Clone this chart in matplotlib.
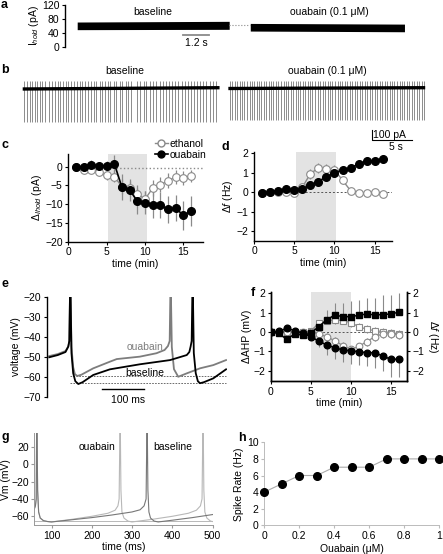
import numpy as np
import matplotlib
matplotlib.use('Agg')
import matplotlib.pyplot as plt
from matplotlib.lines import Line2D

plt.rcParams['font.family'] = ['Liberation Sans', 'DejaVu Sans']
plt.rcParams['mathtext.fontset'] = 'custom'
plt.rcParams['mathtext.rm'] = 'Liberation Sans'
plt.rcParams['mathtext.it'] = 'Liberation Sans:italic'
plt.rcParams['font.size'] = 7.5
plt.rcParams['axes.linewidth'] = 1.0
for k in ['xtick', 'ytick']:
    plt.rcParams[k + '.major.size'] = 2.5
    plt.rcParams[k + '.major.width'] = 0.8
    plt.rcParams[k + '.major.pad'] = 1.5
    plt.rcParams[k + '.labelsize'] = 7.5

# ---------------- data ----------------
# panel a: holding current envelope (pA)
a_base_t = [0.55, 7.4]
a_base_lo = [49, 50]
a_base_hi = [71, 73]
a_oua_t = [8.35, 15.3]
a_oua_lo = [45, 43]
a_oua_hi = [67, 65]

# panel b: spike times (s)
b_base_span = [0.0, 24.6]
b_oua_span = [25.7, 50.3]
b_base_level = [-5, 8]
b_oua_level = [0, 8]
b_base_spikes = [0.2, 0.55, 0.85, 1.2, 1.5, 1.8, 2.1, 2.45, 2.8, 3.3, 3.7, 4.0, 4.35, 4.65,
                 5.0, 5.4, 5.7, 6.05, 6.35, 6.75, 7.1, 7.4, 7.75, 8.15, 8.5, 8.9, 9.2, 9.6,
                 9.95, 10.3, 10.65, 10.95, 11.35, 11.7, 12.1, 12.45, 12.85, 13.15, 13.55,
                 14.3, 14.7, 15.1, 15.45, 15.85, 16.25, 16.7, 17.1, 17.5, 17.9, 18.3, 18.65,
                 19.05, 19.4, 19.85, 20.25, 20.65, 21.0, 21.4, 21.8, 22.2, 22.55, 22.9,
                 23.35, 23.75, 24.15]
b_oua_spikes = [25.9, 26.2, 26.55, 26.8, 27.1, 27.45, 27.7, 28.0, 28.35, 28.6, 28.9, 29.25,
                29.5, 29.8, 30.15, 30.4, 30.75, 31.05, 31.3, 31.65, 31.95, 32.25, 32.6,
                32.85, 33.15, 33.5, 33.8, 34.1, 34.45, 34.7, 35.0, 35.3, 35.65, 35.95, 36.2,
                36.55, 36.85, 37.2, 37.5, 37.8, 38.1, 38.45, 38.7, 39.0, 39.35, 39.65, 39.9,
                40.25, 40.55, 40.9, 41.2, 41.5, 41.8, 42.1, 42.45, 42.75, 43.05, 43.35,
                43.65, 44.0, 44.3, 44.6, 44.9, 45.25, 45.55, 45.85, 46.15, 46.45, 46.8, 47.1,
                47.4, 47.7, 48.0, 48.3, 48.65, 48.95, 49.25, 49.55, 49.85, 50.15]
b_spike_down = -330
b_spike_up = 75

# panel c: delta I_hold (pA)
time_c = list(range(1, 17))
c_oua = [0, 0, 0.5, 0.2, 0.2, 0.8, -5.5, -6.2, -9.2, -9.6, -10.1, -10.2, -11.4, -11.0, -13.0, -11.8]
c_oua_err = [0.6, 0.8, 1.2, 1.0, 1.2, 2.2, 3.5, 3.0, 3.5, 3.0, 3.5, 3.5, 3.5, 3.5, 3.8, 4.0]
c_eth = [0, -1.0, -0.8, -1.5, -2.3, -2.7, -5.3, -5.7, -7.2, -8.7, -5.7, -4.8, -3.8, -2.7, -3.0, -2.5]
c_eth_err = [0.5, 0.8, 0.8, 1.0, 1.2, 1.5, 2.0, 2.0, 2.2, 2.2, 2.2, 2.0, 2.0, 1.8, 1.8, 1.5]

# panel d: delta f (Hz)
time_d = list(range(1, 17))
d_oua = [-0.05, 0.02, 0.08, 0.18, 0.12, 0.18, 0.35, 0.55, 0.8, 0.98, 1.15, 1.25, 1.45, 1.6, 1.62, 1.72]
d_oua_err = [0.05, 0.05, 0.05, 0.06, 0.06, 0.08, 0.1, 0.1, 0.12, 0.12, 0.12, 0.12, 0.12, 0.12, 0.12, 0.12]
d_eth = [-0.05, 0.02, 0.0, 0.02, -0.05, 0.25, 0.95, 1.25, 1.18, 1.15, 0.62, 0.08, -0.05, -0.05, 0.02, -0.1]
d_eth_err = [0.05, 0.05, 0.05, 0.05, 0.05, 0.15, 0.25, 0.25, 0.25, 0.25, 0.2, 0.1, 0.08, 0.08, 0.08, 0.08]

# panel e: voltage traces (ms, mV)
e_base_t = [0, 20, 38, 44.5, 47, 48.5, 50, 52, 56, 61, 68, 78, 103, 142, 212, 283, 322, 328,
            331, 333.5, 335, 336.5, 338.5, 343, 348, 353, 362, 384, 414]
e_base_v = [-50.1, -49, -47.5, -44.8, -42, -20, -20, -48, -58, -62, -63.4, -62.5, -58.9, -56.1,
            -53.6, -51.5, -49, -47.5, -44.8, -42, -20, -20, -48, -58, -62, -63, -62.5, -60.6, -56.1]
e_oua_t = [0, 20, 38, 44.5, 47, 48.5, 50, 52, 56, 60, 65.7, 75, 103, 142, 158, 212, 251, 270,
           278, 282, 283.5, 285, 287, 292, 302, 322, 353, 384, 414]
e_oua_v = [-49.5, -48.5, -47, -44.8, -42, -20, -20, -45, -55, -58.5, -59.4, -58.8, -55.6, -52.3,
           -51, -49.8, -48.1, -46.5, -44.5, -42, -20, -20, -45, -56, -59.8, -58.1, -55.6, -54, -51.5]
e_ref_levels = [-59.5, -63]

# panel f
time_f = list(range(0, 17))
f_oua_df = [0, -0.07, -0.38, -0.1, -0.17, -0.07, 0.28, 0.62, 0.88, 0.79, 0.79, 0.86, 0.93, 0.88, 0.9, 0.93, 1.02]
f_oua_df_err = [0.1, 0.2, 0.2, 0.2, 0.2, 0.2, 0.3, 0.5, 0.6, 0.7, 0.8, 0.8, 0.8, 0.9, 1.0, 1.0, 1.0]
f_oua_ahp = [0, 0.03, 0.19, 0.07, -0.07, -0.24, -0.47, -0.67, -0.81, -0.93, -0.97, -1.02, -1.07, -1.07, -1.24, -1.41, -1.41]
f_oua_ahp_err = [0.1, 0.2, 0.2, 0.2, 0.2, 0.2, 0.3, 0.5, 0.6, 0.6, 0.7, 0.7, 0.7, 0.8, 0.8, 0.9, 0.9]
f_eth_df = [0, 0, -0.05, 0, 0, 0.05, 0.45, 0.59, 0.62, 0.59, 0.48, 0.28, 0.14, 0.07, 0.02, -0.03, -0.1]
f_eth_df_err = [0.1, 0.1, 0.1, 0.1, 0.1, 0.1, 0.15, 0.2, 0.2, 0.2, 0.2, 0.2, 0.2, 0.2, 0.2, 0.2, 0.2]
f_eth_ahp = [0, 0, 0, 0, 0, 0, -0.1, -0.25, -0.45, -0.7, -0.9, -0.75, -0.5, -0.25, -0.1, -0.1, -0.15]
f_eth_ahp_err = [0.1, 0.1, 0.1, 0.1, 0.1, 0.1, 0.15, 0.2, 0.2, 0.2, 0.2, 0.2, 0.2, 0.2, 0.2, 0.2, 0.2]

# panel g: model traces (ms, mV)
g_base_t = [57, 60, 62, 63, 64, 65.5, 68, 72, 80, 90, 100, 150, 200, 250, 300, 320, 330, 335,
            337, 338, 339.5, 342, 346, 355, 365, 400, 450, 500]
g_base_v = [-52, -48, -40, 40, 40, -30, -55, -62, -65, -66, -66.5, -64, -61.5, -58.5, -55,
            -52.5, -48, -40, 40, 40, -30, -55, -62, -65.5, -66.5, -64.5, -61.5, -58]
g_oua_t = [57, 60, 62, 63, 64, 65.5, 68, 72, 80, 90, 100, 150, 200, 240, 258, 265, 268, 270,
           271, 272.5, 275, 280, 290, 300, 350, 400, 440, 460, 470, 474, 476, 477, 478.5,
           481, 486, 495, 500]
g_oua_v = [-52, -48, -40, 40, 40, -30, -55, -62, -65, -66, -66.5, -63.5, -60, -56.5, -53, -48,
           -40, 40, 40, -30, -55, -62, -65.5, -66.5, -63.5, -60, -56.5, -53, -48, -40, 40, 40,
           -30, -55, -62, -65.5, -66]
g_rest_level = -65

# panel h
h_conc = [0, 0.1, 0.2, 0.3, 0.4, 0.5, 0.6, 0.7, 0.8, 0.9, 1.0]
h_rate = [4, 5, 6, 6, 7, 7, 7, 8, 8, 8, 8]

# ---------------- figure ----------------
W, H = 443, 554
fig = plt.figure(figsize=(W / 100, H / 100), dpi=100)


def axpx(x0, y0, x1, y1):
    return fig.add_axes([x0 / W, 1 - y1 / H, (x1 - x0) / W, (y1 - y0) / H])


def letter(x, y, s):
    fig.text(x / W, 1 - y / H, s, fontsize=9, fontweight='bold', ha='left', va='center')


GRAY = '#8a8a8a'
SHADE = '#e3e3e3'

# ---- a ----
ax = axpx(65, 5, 420, 46.7)
ax.fill_between(a_base_t, a_base_lo, a_base_hi, color='black', lw=0)
ax.fill_between(a_oua_t, a_oua_lo, a_oua_hi, color='black', lw=0)
ax.plot([a_base_t[1], a_oua_t[0]], [62, 62], ls=':', color=GRAY, lw=0.8)
ax.plot([5.3, 6.5], [33.5, 33.5], color=GRAY, lw=1.3)
ax.text(5.9, 10, '1.2 s', ha='center', va='center', fontsize=7.5)
ax.text(3.96, 99, 'baseline', ha='center', va='center', fontsize=7.5)
ax.text(11.9, 99, 'ouabain (0.1 μM)', ha='center', va='center', fontsize=7.5)
ax.set_xlim(0, 16)
ax.set_ylim(0, 120)
ax.set_yticks([0, 40, 80, 120])
ax.set_xticks([])
for s in ['top', 'right', 'bottom']:
    ax.spines[s].set_visible(False)
ax.set_ylabel(r'I$_{hold}$ (pA)', labelpad=1)
ax.patch.set_visible(False)

# ---- b ----
ax = axpx(20, 76, 430, 150)
ax.vlines(b_base_spikes, b_spike_down, b_spike_up, color='#7a7a7a', lw=0.6)
ax.vlines(b_oua_spikes, b_spike_down + 20, b_spike_up, color='#7a7a7a', lw=0.6)
ax.plot(b_base_span, b_base_level, color='black', lw=2.4, solid_capstyle='butt')
ax.plot(b_oua_span, b_oua_level, color='black', lw=2.4, solid_capstyle='butt')
ax.plot([43.6, 43.6, 48.6], [-415, -515, -515], color='black', lw=0.8)
ax.text(43.8, -465, '100 pA', ha='left', va='center', fontsize=7.5)
ax.text(46.7, -585, '5 s', ha='center', va='center', fontsize=7.5)
ax.set_xlim(-0.3375, 50.9)
ax.set_ylim(-615, 125)
ax.axis('off')
fig.text(125 / W, 1 - 71 / H, 'baseline', ha='center', va='center', fontsize=7.5)
fig.text(327 / W, 1 - 71 / H, 'ouabain (0.1 μM)', ha='center', va='center', fontsize=7.5)


def style_axes(ax):
    for s in ['top', 'right']:
        ax.spines[s].set_visible(False)
    ax.patch.set_visible(False)


# ---- c ----
ax = axpx(68.3, 153.6, 202.5, 241.7)
ax.axvspan(5.2, 10.2, color=SHADE, lw=0, zorder=0)
ax.plot([6.2, 17.5], [-0.3, -0.3], ls=':', color=GRAY, lw=1.0, zorder=1)
ax.errorbar(time_c, c_eth, yerr=c_eth_err, fmt='none', ecolor=GRAY, elinewidth=0.9, zorder=2)
ax.errorbar(time_c, c_oua, yerr=c_oua_err, fmt='none', ecolor=GRAY, elinewidth=0.9, zorder=2)
ax.plot(time_c, c_eth, '-o', color=GRAY, mfc='white', mec=GRAY, ms=5.5, lw=1.0, mew=0.8, zorder=3)
ax.plot(time_c, c_oua, '-o', color='black', mfc='black', mec='black', ms=5.5, lw=1.2, zorder=4)
ax.set_xlim(0, 17.5)
ax.set_ylim(-20, 3.5)
ax.set_xticks([0, 5, 10, 15])
ax.set_yticks([-20, -15, -10, -5, 0])
ax.set_xlabel('time (min)', labelpad=1)
ax.set_ylabel(r'Δ$_{Ihold}$ (pA)', labelpad=1)
style_axes(ax)
hl = [Line2D([], [], color=GRAY, marker='o', mfc='white', mec=GRAY, ms=5, lw=1.0),
      Line2D([], [], color='black', marker='o', mfc='black', ms=5, lw=1.2)]
ax.legend(hl, ['ethanol', 'ouabain'], loc='upper right', bbox_to_anchor=(1.03, 1.165),
          frameon=False, handlelength=1.3, handletextpad=0.15, labelspacing=0.05,
          borderpad=0, borderaxespad=0, fontsize=7.5)

# ---- d ----
ax = axpx(254, 152.4, 391.6, 240.8)
ax.axvspan(5.2, 10.2, color=SHADE, lw=0, zorder=0)
ax.plot([3, 17.1], [0, 0], ls=(0, (2, 2)), color='#555555', lw=0.7, zorder=1)
ax.errorbar(time_d, d_eth, yerr=d_eth_err, fmt='none', ecolor=GRAY, elinewidth=0.9, zorder=2)
ax.errorbar(time_d, d_oua, yerr=d_oua_err, fmt='none', ecolor=GRAY, elinewidth=0.9, zorder=2)
ax.plot(time_d, d_eth, '-o', color=GRAY, mfc='white', mec=GRAY, ms=5.5, lw=1.0, mew=0.8, zorder=3)
ax.plot(time_d, d_oua, '-o', color='black', mfc='black', mec='black', ms=5.5, lw=1.2, zorder=4)
ax.set_xlim(0, 17.1)
ax.set_ylim(-2.5, 2.05)
ax.set_xticks([0, 5, 10, 15])
ax.set_yticks([-2, -1, 0, 1, 2])
ax.set_xlabel('time (min)', labelpad=1)
ax.set_ylabel(r'Δ$f$ (Hz)', labelpad=1)
style_axes(ax)

# ---- e ----
ax = axpx(46.7, 296.7, 226.9, 397.3)
for lv in e_ref_levels:
    ax.plot([49, 414], [lv, lv], ls=(0, (2, 1.5)), color='#555555', lw=0.6)
ax.plot(e_oua_t, e_oua_v, color='#7d7d7d', lw=1.3)
ax.plot(e_base_t, e_base_v, color='black', lw=1.3)
ax.text(224, -44.8, 'ouabain', color='#7d7d7d', ha='center', va='center', fontsize=7.5)
ax.text(224, -57.8, 'baseline', color='black', ha='center', va='center', fontsize=7.5)
ax.plot([122.7, 222.6], [-65.9, -65.9], color='black', lw=1.0, clip_on=False)
ax.text(184.5, -71.2, '100 ms', ha='center', va='center', fontsize=7.5, clip_on=False)
ax.set_xlim(-6, 416)
ax.set_ylim(-70, -20)
ax.set_yticks([-70, -60, -50, -40, -30, -20])
ax.set_xticks([])
for s in ['top', 'right', 'bottom']:
    ax.spines[s].set_visible(False)
ax.set_ylabel('voltage (mV)', labelpad=2)
ax.patch.set_visible(False)

# ---- f ----
ax = axpx(270.7, 292.3, 406.7, 381.3)
ax.axvspan(5.0, 10.0, color=SHADE, lw=0, zorder=0)
ax.plot([5, 17], [0, 0], ls=(0, (2, 2)), color='#555555', lw=0.7, zorder=1)
z = np.zeros(len(time_f))
ax.errorbar(time_f, f_eth_df, yerr=[f_eth_df_err, f_eth_df_err], fmt='none', ecolor=GRAY, elinewidth=0.8, zorder=2)
ax.errorbar(time_f, f_eth_ahp, yerr=[f_eth_ahp_err, f_eth_ahp_err], fmt='none', ecolor=GRAY, elinewidth=0.8, zorder=2)
ax.errorbar(time_f, f_oua_df, yerr=[z, f_oua_df_err], fmt='none', ecolor=GRAY, elinewidth=0.8, zorder=2)
ax.errorbar(time_f, f_oua_ahp, yerr=[f_oua_ahp_err, z], fmt='none', ecolor=GRAY, elinewidth=0.8, zorder=2)
ax.plot(time_f, f_eth_df, '-s', color=GRAY, mfc='white', mec=GRAY, ms=4.5, lw=0.9, mew=0.8, zorder=3)
ax.plot(time_f, f_eth_ahp, '-o', color=GRAY, mfc='white', mec=GRAY, ms=4.8, lw=0.9, mew=0.8, zorder=3)
ax.plot(time_f, f_oua_df, '-s', color='black', mfc='black', ms=4.5, lw=1.1, zorder=4)
ax.plot(time_f, f_oua_ahp, '-o', color='black', mfc='black', ms=4.8, lw=1.1, zorder=4)
ax.set_xlim(0, 17)
ax.set_ylim(-2.55, 2.05)
ax.set_xticks([0, 5, 10, 15])
ax.set_yticks([-2, -1, 0, 1, 2])
ax.set_xlabel('time (min)', labelpad=1)
ax.set_ylabel('ΔAHP (mV)', labelpad=1)
ax.spines['top'].set_visible(False)
ax.patch.set_visible(False)
ax2 = ax.twinx()
ax2.set_ylim(-2.55, 2.05)
ax2.set_yticks([-2, -1, 0, 1, 2])
ax2.spines['top'].set_visible(False)
ax2.set_ylabel(r'Δ$f$ (Hz)', rotation=270, va='center', ha='center')
ax2.yaxis.set_label_coords(1.19, 0.5)

# ---- g ----
LG = '#b8b8b8'
ax = axpx(34.2, 433.3, 212.5, 525)
ax.plot([57, 500], [g_rest_level, g_rest_level], color=LG, lw=0.7)
ax.plot(g_oua_t, g_oua_v, color=LG, lw=0.8)
ax.plot(g_base_t, g_base_v, color='#777777', lw=0.8)
ax.text(212, 20, 'ouabain', ha='center', va='center', fontsize=7.5)
ax.text(401, 20, 'baseline', ha='center', va='center', fontsize=7.5)
ax.set_xlim(57, 500)
ax.set_ylim(-70, 35.5)
ax.set_xticks([100, 200, 300, 400, 500])
ax.set_yticks([-60, -40, -20, 0, 20])
ax.set_xlabel('time (ms)', labelpad=1)
ax.set_ylabel('Vm (mV)', labelpad=0)
for s in ['top', 'right']:
    ax.spines[s].set_visible(False)
for s in ['left', 'bottom']:
    ax.spines[s].set_color('#999999')
    ax.spines[s].set_linewidth(0.7)
ax.tick_params(color='#999999')
ax.patch.set_visible(False)

# ---- h ----
ax = axpx(264.3, 442.3, 439, 525.3)
ax.plot(h_conc, h_rate, '-', color='#aaaaaa', lw=0.8, zorder=2)
ax.plot(h_conc, h_rate, 'o', color='black', ms=5.5, zorder=3, clip_on=False)
ax.set_xlim(0, 1)
ax.set_ylim(0, 10)
ax.set_xticks([0, 0.2, 0.4, 0.6, 0.8, 1.0])
ax.set_xticklabels(['0', '0.2', '0.4', '0.6', '0.8', '1'])
ax.set_yticks([0, 2, 4, 6, 8, 10])
ax.set_xlabel('Ouabain (μM)', labelpad=2)
ax.set_ylabel('Spike Rate (Hz)', labelpad=2)
for s in ['top', 'right']:
    ax.spines[s].set_visible(False)
for s in ['left', 'bottom']:
    ax.spines[s].set_color('#bbbbbb')
    ax.spines[s].set_linewidth(0.7)
ax.tick_params(color='#bbbbbb')
ax.patch.set_visible(False)

# panel letters
letter(1, 5, 'a')
letter(1, 70, 'b')
letter(1, 145, 'c')
letter(221, 147, 'd')
letter(1, 284, 'e')
letter(251, 293, 'f')
letter(1, 437, 'g')
letter(238, 438, 'h')

fig.savefig('out.png', dpi=100)
